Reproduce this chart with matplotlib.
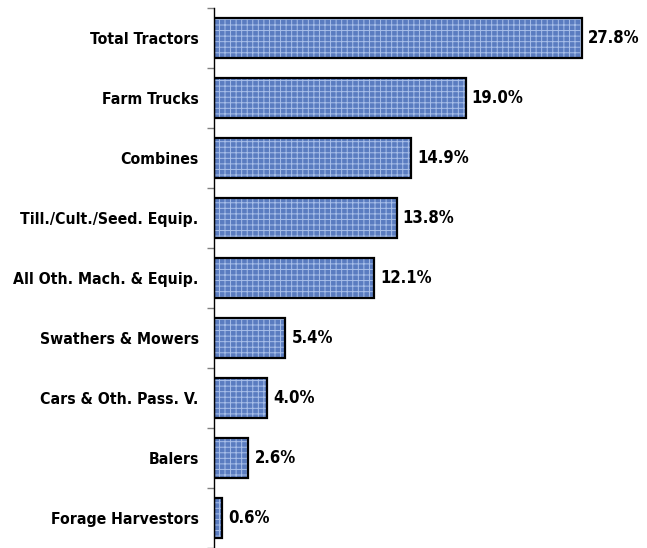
import matplotlib.pyplot as plt
import numpy as np

categories = [
    "Total Tractors",
    "Farm Trucks",
    "Combines",
    "Till./Cult./Seed. Equip.",
    "All Oth. Mach. & Equip.",
    "Swathers & Mowers",
    "Cars & Oth. Pass. V.",
    "Balers",
    "Forage Harvestors",
]
shares = [27.8, 19.0, 14.9, 13.8, 12.1, 5.4, 4.0, 2.6, 0.6]

plt.rcParams["font.family"] = ["DejaVu Sans"]
plt.rcParams["hatch.linewidth"] = 0.7

fig = plt.figure(figsize=(6.47, 5.48), dpi=100)
ax = fig.add_axes([214 / 647, 0, 433 / 647, 540 / 548])

y = np.arange(len(categories))
# textured fill: light hatch over mid blue, then a plain black outline on top
ax.barh(y, shares, height=0.68, color="#5a7cc0", edgecolor="#a8bfe9",
        linewidth=0, hatch="+++")
bars = ax.barh(y, shares, height=0.68, fill=False, edgecolor="black",
               linewidth=1.6)
for rect, v in zip(bars, shares):
    ax.text(rect.get_width() + 0.45, rect.get_y() + rect.get_height() / 2,
            f"{v:.1f}%", va="center", ha="left", fontsize=12, fontweight="bold",
            fontstretch="condensed")

ax.set_ylim(len(categories) - 0.5, -0.5)
ax.set_xlim(0, 433 / 13.24)
# ticks sit between categories, labels centred on the bars
ax.set_yticks(np.arange(-0.5, len(categories)), minor=False)
ax.set_yticklabels([])
ax.set_yticks(y, minor=True)
ax.set_yticklabels(categories, minor=True, fontsize=11.3, fontweight="bold",
                   fontstretch="condensed")
ax.tick_params(axis="y", which="major", length=5, color="#808080", width=1)
ax.tick_params(axis="y", which="minor", length=0, pad=11)
ax.set_xticks([])
for side in ("top", "right", "bottom"):
    ax.spines[side].set_visible(False)
ax.spines["left"].set_linewidth(1)
ax.patch.set_alpha(0)

fig.savefig("out.png", dpi=100)
